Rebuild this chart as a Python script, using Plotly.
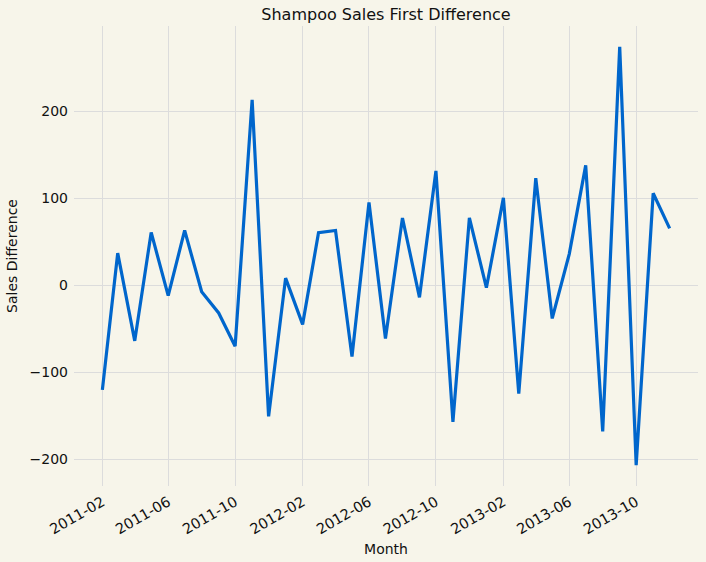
import pandas as pd
import plotly.graph_objects as go

# shampoo sales, month-on-month difference
months = pd.date_range("2011-02-01", "2013-12-01", freq="MS")
sales_diff = [-120.1, 37.2, -63.8, 61.0, -11.8, 63.3, -7.3, -31.7, -69.9, 213.6,
              -150.6, 8.4, -44.8, 60.6, 63.2, -81.9, 95.6, -61.0, 77.6, -13.7,
              131.7, -157.1, 77.8, -2.6, 100.7, -124.5, 123.4, -38.0, 36.1, 138.1,
              -167.9, 274.4, -206.7, 106.0, 65.6]
y_ticks = [-200, -100, 0, 100, 200]
y_tick_labels = ["\u2212200", "\u2212100", "0", "100", "200"]

BG = "#f7f5ea"
GRID = "#dcdcdc"

fig = go.Figure()
fig.add_trace(go.Scatter(
    x=months, y=sales_diff, mode="lines",
    line=dict(color="#0066cc", width=3.2),
    showlegend=False,
))

# matplotlib-ish 5% margins
span = months[-1] - months[0]
pad = span * 0.05
ymin, ymax = min(sales_diff), max(sales_diff)
ypad = (ymax - ymin) * 0.05

fig.update_xaxes(
    range=[months[0] - pad, months[-1] + pad],
    tick0="2011-02-01", dtick="M4", tickformat="%Y-%m",
    tickangle=-30, showgrid=True, gridcolor=GRID, gridwidth=1,
    zeroline=False, showline=False, ticks="", automargin=False,
    ticklabelstandoff=4, tickfont=dict(size=14.5),
    title=dict(text="Month", font=dict(size=14), standoff=7),
)
fig.update_yaxes(
    range=[ymin - ypad, ymax + ypad],
    tickvals=y_ticks, ticktext=y_tick_labels,
    showgrid=True, gridcolor=GRID, gridwidth=1,
    zeroline=False, showline=False, ticks="", automargin=False,
    ticklabelstandoff=5,
    title=dict(text="Sales Difference", font=dict(size=14), standoff=8),
)

fig.update_layout(
    width=706, height=562,
    margin=dict(l=74, r=8, t=26, b=76, autoexpand=False),
    paper_bgcolor=BG, plot_bgcolor=BG,
    font=dict(family="DejaVu Sans", size=14, color="#111111"),
    title=dict(text="Shampoo Sales First Difference", xref="paper", x=0.5,
               xanchor="center", y=1 - 14 / 562, yanchor="middle",
               font=dict(size=16)),
)

fig.write_html("out.html", config={"displayModeBar": False},
               post_script="document.body.style.margin='0';document.body.style.overflow='hidden';")
